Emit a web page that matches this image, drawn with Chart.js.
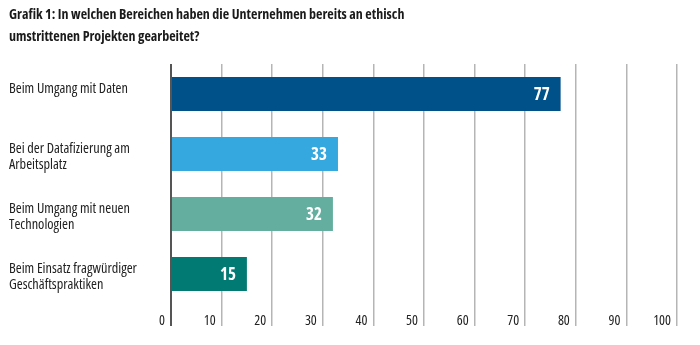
<!DOCTYPE html>
<html>
<head>
<meta charset="utf-8">
<script src="https://cdn.jsdelivr.net/npm/chart.js@4"></script>
<style>
  html, body { margin: 0; padding: 0; background: #fff; }
  #wrap { width: 700px; height: 345px; }
</style>
</head>
<body>
<div id="wrap"><canvas id="chart"></canvas></div>
<script>
const titleLines = [
    'Grafik 1: In welchen Bereichen haben die Unternehmen bereits an ethisch',
    'umstrittenen Projekten gearbeitet?'
];
const categories = [
    ['Beim Umgang mit Daten', ''],
    ['Bei der Datafizierung am', 'Arbeitsplatz'],
    ['Beim Umgang mit neuen', 'Technologien'],
    ['Beim Einsatz fragwürdiger', 'Geschäftspraktiken']
];
const values = [77, 33, 32, 15];
const barColors = ['#00508a', '#35a8e0', '#64ae9f', '#007a73'];
const xTicks = { min: 0, max: 100, step: 10 };

// Open Sans is a variable font here, "condensed" goes into the css font shorthand
const FONT = '"Open Sans", sans-serif';

// white value labels inside the bar end
const valueLabels = {
    id: 'valueLabels',
    afterDatasetsDraw(chart) {
        const ctx = chart.ctx;
        const meta = chart.getDatasetMeta(0);
        ctx.save();
        ctx.font = 'bold condensed 17px ' + FONT;
        ctx.fillStyle = '#ffffff';
        ctx.textAlign = 'right';
        ctx.textBaseline = 'middle';
        meta.data.forEach((bar, i) => {
            ctx.fillText(String(values[i]), bar.x - 11, bar.y + 1);
        });
        ctx.restore();
    }
};

new Chart(document.getElementById('chart'), {
    type: 'bar',
    data: {
        labels: categories,
        datasets: [{
            data: values,
            backgroundColor: barColors,
            borderWidth: 0,
            categoryPercentage: 1,
            barPercentage: 0.567
        }]
    },
    options: {
        indexAxis: 'y',
        responsive: true,
        maintainAspectRatio: false,
        animation: false,
        layout: {
            padding: { top: 4, left: 9, right: 23, bottom: 16 }
        },
        plugins: {
            legend: { display: false },
            tooltip: { enabled: false },
            title: {
                display: true,
                text: titleLines,
                align: 'start',
                color: '#1a1a1a',
                font: { family: FONT, size: 14, weight: 'bold condensed', lineHeight: 1.57 },
                padding: { top: 0, bottom: 16 }
            }
        },
        scales: {
            x: {
                min: xTicks.min,
                max: xTicks.max,
                border: { display: false },
                grid: {
                    color: ctx => ctx.tick && ctx.tick.value === 0 ? '#555555' : '#b5b5b5',
                    lineWidth: ctx => ctx.tick && ctx.tick.value === 0 ? 2 : 1.5,
                    tickLength: 22
                },
                afterFit: scale => { scale.height = 25; },
                ticks: {
                    stepSize: xTicks.step,
                    align: 'end',
                    labelOffset: -6,
                    padding: -13,
                    color: '#222222',
                    font: { family: FONT, size: 14, weight: 'condensed' }
                }
            },
            y: {
                border: { display: false },
                grid: { display: false, drawTicks: false },
                afterFit: scale => { scale.width = 162; },
                ticks: {
                    crossAlign: 'far',
                    labelOffset: 3,
                    color: '#222222',
                    font: { family: FONT, size: 14.3, weight: 'condensed', lineHeight: 1.15 }
                }
            }
        }
    },
    plugins: [valueLabels]
});
</script>
</body>
</html>
